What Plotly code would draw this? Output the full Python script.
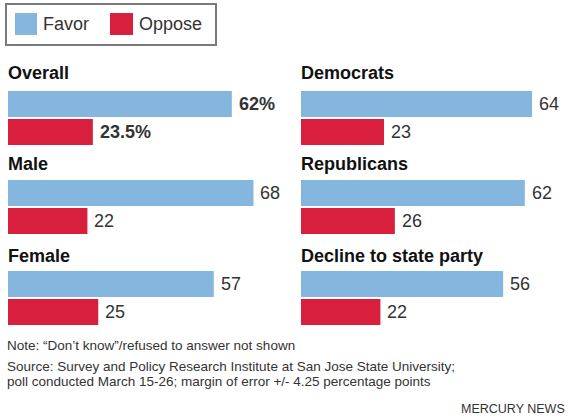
import plotly.graph_objects as go

W, H = 574, 417

groups = ["Overall", "Democrats", "Male", "Republicans", "Female", "Decline to state party"]
favor = [62, 64, 68, 62, 57, 56]
oppose = [23.5, 23, 22, 26, 25, 22]
favor_labels = ["62%", "64", "68", "62", "57", "56"]
oppose_labels = ["23.5%", "23", "22", "26", "25", "22"]
series_names = ["Favor", "Oppose"]
series_colors = ["#85b6de", "#d81f3d"]

note = "Note: \u201cDon\u2019t know\u201d/refused to answer not shown"
source1 = "Source: Survey and Policy Research Institute at San Jose State University;"
source2 = "poll conducted March 15-26; margin of error +/- 4.25 percentage points"
credit = "MERCURY NEWS"

FONT = "Liberation Sans, Arial, sans-serif"
PX_PER_UNIT = 3.61
XMAX = 75
col_left = [8, 301]
row_top = [90, 179, 270]   # pixel top of each panel's bar area
title_y = [73, 164, 256]
BAND = 56

fig = go.Figure()
annotations = []
for i, g in enumerate(groups):
    r, c = divmod(i, 2)
    ax = "" if i == 0 else str(i + 1)
    x0 = col_left[c]
    x1 = x0 + XMAX * PX_PER_UNIT
    y0 = row_top[r]
    y1 = y0 + BAND
    fig.update_layout(**{
        f"xaxis{ax}": dict(domain=[x0 / W, x1 / W], range=[0, XMAX], visible=False,
                           fixedrange=True),
        f"yaxis{ax}": dict(domain=[1 - y1 / H, 1 - y0 / H], range=[-0.5, 1.5],
                           visible=False, fixedrange=True),
    })
    xa = "x" + ax
    ya = "y" + ax
    fig.add_trace(go.Bar(x=[favor[i]], y=[1], orientation="h", width=0.93,
                         marker=dict(color=series_colors[0], line=dict(width=0)),
                         xaxis=xa, yaxis=ya, showlegend=False, name=series_names[0],
                         hoverinfo="skip"))
    fig.add_trace(go.Bar(x=[oppose[i]], y=[0], orientation="h", width=0.93,
                         marker=dict(color=series_colors[1], line=dict(width=0)),
                         xaxis=xa, yaxis=ya, showlegend=False, name=series_names[1],
                         hoverinfo="skip"))
    bold = (i == 0)
    for val, lab, yy in ((favor[i], favor_labels[i], 1), (oppose[i], oppose_labels[i], 0)):
        annotations.append(dict(x=val, y=yy, xref=xa, yref=ya, text=f"<b>{lab}</b>" if bold else lab,
                                showarrow=False, xanchor="left", yanchor="middle", xshift=5,
                                font=dict(family=FONT, size=18, color="#333333")))
    annotations.append(dict(x=(x0 - 2) / W, y=1 - title_y[r] / H, xref="paper", yref="paper",
                            text=f"<b>{g}</b>", showarrow=False, xanchor="left",
                            yanchor="middle", font=dict(family=FONT, size=18, color="#111111")))

# legend (drawn)
shapes = [
    dict(type="rect", xref="paper", yref="paper", x0=6 / W, x1=216 / W,
         y0=1 - 45 / H, y1=1 - 4 / H, line=dict(color="#7a7a7a", width=2), fillcolor="white"),
    dict(type="rect", xref="paper", yref="paper", x0=15 / W, x1=37 / W,
         y0=1 - 35 / H, y1=1 - 13 / H, line=dict(width=0), fillcolor=series_colors[0]),
    dict(type="rect", xref="paper", yref="paper", x0=110 / W, x1=133 / W,
         y0=1 - 35 / H, y1=1 - 13 / H, line=dict(width=0), fillcolor=series_colors[1]),
]
for name, xx in zip(series_names, [41, 137]):
    annotations.append(dict(x=xx / W, y=1 - 24 / H, xref="paper", yref="paper", text=name,
                            showarrow=False, xanchor="left", yanchor="middle",
                            font=dict(family=FONT, size=18, color="#333333")))

# footer
for txt, yy in ((note, 345), (source1, 366), (source2, 381)):
    annotations.append(dict(x=5 / W, y=1 - yy / H, xref="paper", yref="paper", text=txt,
                            showarrow=False, xanchor="left", yanchor="middle",
                            font=dict(family=FONT, size=13.5, color="#333333")))
annotations.append(dict(x=567 / W, y=1 - 409 / H, xref="paper", yref="paper", text=credit,
                        showarrow=False, xanchor="right", yanchor="middle",
                        font=dict(family=FONT, size=12.5, color="#333333")))

fig.update_layout(width=W, height=H, margin=dict(l=0, r=0, t=0, b=0),
                  paper_bgcolor="white", plot_bgcolor="white", barmode="overlay",
                  annotations=annotations, shapes=shapes, showlegend=False)

fig.write_html("out.html", config={"displayModeBar": False},
               post_script="document.body.style.margin='0';document.body.style.padding='0';"
                           "document.body.style.overflow='hidden';")
